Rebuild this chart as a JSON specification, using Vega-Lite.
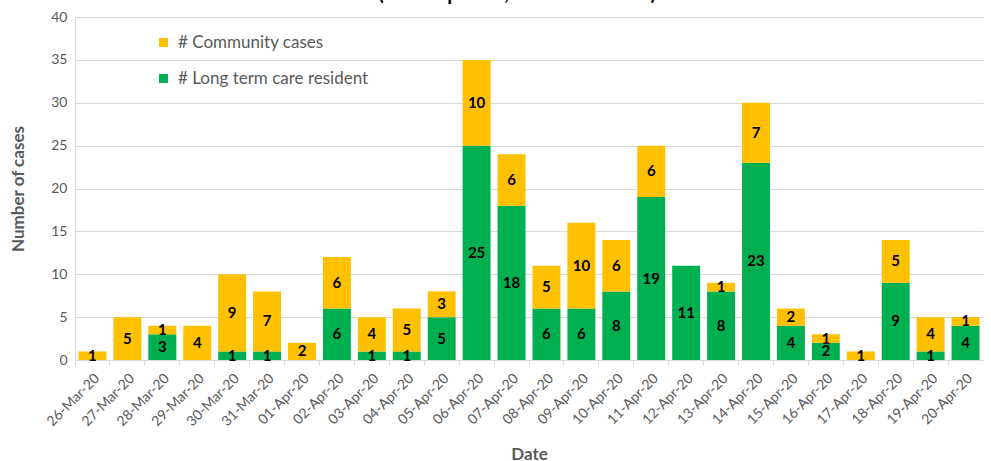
{
  "$schema": "https://vega.github.io/schema/vega-lite/v6.json",
  "width": 908,
  "height": 343,
  "autosize": {"type": "none"},
  "padding": {"left": 75, "top": 17, "right": 8, "bottom": 101},
  "background": "white",
  "title": {
    "text": "(As of April 20, 2020: LGLDHU)",
    "font": "Lato",
    "fontSize": 20,
    "fontWeight": "bold",
    "color": "black",
    "anchor": "middle",
    "offset": 2,
    "dx": -12,
    "dy": 12,
    "baseline": "alphabetic"
  },
  "config": {
    "view": {"stroke": null},
    "font": "Lato",
    "axis": {
      "labelColor": "#595959",
      "titleColor": "#595959",
      "labelFont": "Lato",
      "titleFont": "Lato",
      "domainColor": "#d9d9d9",
      "gridColor": "#d9d9d9",
      "tickColor": "#d9d9d9"
    }
  },
  "data": {
    "values": [
      {"date": "26-Mar-20", "series": "# Long term care resident", "value": 0},
      {"date": "26-Mar-20", "series": "# Community cases", "value": 1},
      {"date": "27-Mar-20", "series": "# Long term care resident", "value": 0},
      {"date": "27-Mar-20", "series": "# Community cases", "value": 5},
      {"date": "28-Mar-20", "series": "# Long term care resident", "value": 3},
      {"date": "28-Mar-20", "series": "# Community cases", "value": 1},
      {"date": "29-Mar-20", "series": "# Long term care resident", "value": 0},
      {"date": "29-Mar-20", "series": "# Community cases", "value": 4},
      {"date": "30-Mar-20", "series": "# Long term care resident", "value": 1},
      {"date": "30-Mar-20", "series": "# Community cases", "value": 9},
      {"date": "31-Mar-20", "series": "# Long term care resident", "value": 1},
      {"date": "31-Mar-20", "series": "# Community cases", "value": 7},
      {"date": "01-Apr-20", "series": "# Long term care resident", "value": 0},
      {"date": "01-Apr-20", "series": "# Community cases", "value": 2},
      {"date": "02-Apr-20", "series": "# Long term care resident", "value": 6},
      {"date": "02-Apr-20", "series": "# Community cases", "value": 6},
      {"date": "03-Apr-20", "series": "# Long term care resident", "value": 1},
      {"date": "03-Apr-20", "series": "# Community cases", "value": 4},
      {"date": "04-Apr-20", "series": "# Long term care resident", "value": 1},
      {"date": "04-Apr-20", "series": "# Community cases", "value": 5},
      {"date": "05-Apr-20", "series": "# Long term care resident", "value": 5},
      {"date": "05-Apr-20", "series": "# Community cases", "value": 3},
      {"date": "06-Apr-20", "series": "# Long term care resident", "value": 25},
      {"date": "06-Apr-20", "series": "# Community cases", "value": 10},
      {"date": "07-Apr-20", "series": "# Long term care resident", "value": 18},
      {"date": "07-Apr-20", "series": "# Community cases", "value": 6},
      {"date": "08-Apr-20", "series": "# Long term care resident", "value": 6},
      {"date": "08-Apr-20", "series": "# Community cases", "value": 5},
      {"date": "09-Apr-20", "series": "# Long term care resident", "value": 6},
      {"date": "09-Apr-20", "series": "# Community cases", "value": 10},
      {"date": "10-Apr-20", "series": "# Long term care resident", "value": 8},
      {"date": "10-Apr-20", "series": "# Community cases", "value": 6},
      {"date": "11-Apr-20", "series": "# Long term care resident", "value": 19},
      {"date": "11-Apr-20", "series": "# Community cases", "value": 6},
      {"date": "12-Apr-20", "series": "# Long term care resident", "value": 11},
      {"date": "12-Apr-20", "series": "# Community cases", "value": 0},
      {"date": "13-Apr-20", "series": "# Long term care resident", "value": 8},
      {"date": "13-Apr-20", "series": "# Community cases", "value": 1},
      {"date": "14-Apr-20", "series": "# Long term care resident", "value": 23},
      {"date": "14-Apr-20", "series": "# Community cases", "value": 7},
      {"date": "15-Apr-20", "series": "# Long term care resident", "value": 4},
      {"date": "15-Apr-20", "series": "# Community cases", "value": 2},
      {"date": "16-Apr-20", "series": "# Long term care resident", "value": 2},
      {"date": "16-Apr-20", "series": "# Community cases", "value": 1},
      {"date": "17-Apr-20", "series": "# Long term care resident", "value": 0},
      {"date": "17-Apr-20", "series": "# Community cases", "value": 1},
      {"date": "18-Apr-20", "series": "# Long term care resident", "value": 9},
      {"date": "18-Apr-20", "series": "# Community cases", "value": 5},
      {"date": "19-Apr-20", "series": "# Long term care resident", "value": 1},
      {"date": "19-Apr-20", "series": "# Community cases", "value": 4},
      {"date": "20-Apr-20", "series": "# Long term care resident", "value": 4},
      {"date": "20-Apr-20", "series": "# Community cases", "value": 1}
    ]
  },
  "transform": [
    {"stack": "value", "groupby": ["date"], "sort": [{"field": "series", "order": "descending"}], "as": ["v0", "v1"]},
    {"calculate": "(datum.v0 + datum.v1) / 2", "as": "mid"}
  ],
  "encoding": {
    "x": {
      "field": "date",
      "type": "nominal",
      "sort": null,
      "scale": {"paddingInner": 0.2, "paddingOuter": 0.1},
      "axis": {
        "title": "Date",
        "titleFontSize": 17,
        "titleFontWeight": "bold",
        "titleY": 86,
        "labelAngle": -45,
        "labelFontSize": 14,
        "ticks": true,
        "tickSize": 5,
        "bandPosition": -0.125,
        "labelOffset": 0,
        "labelPadding": 6,
        "domainColor": "#d9d9d9"
      }
    }
  },
  "layer": [
    {
      "mark": {"type": "bar"},
      "encoding": {
        "y": {
          "field": "v0",
          "type": "quantitative",
          "scale": {"domain": [0, 40]},
          "axis": {
            "title": "Number of cases",
            "titleFontSize": 17,
            "titleFontWeight": "bold",
            "titleX": -48,
            "labelFontSize": 14,
            "tickCount": 8,
            "ticks": false,
            "labelPadding": 8,
            "domain": true
          }
        },
        "y2": {"field": "v1"},
        "color": {
          "field": "series",
          "type": "nominal",
          "scale": {
            "domain": ["# Community cases", "# Long term care resident"],
            "range": ["#FFC000", "#00B050"]
          },
          "legend": {
            "title": null,
            "orient": "none",
            "legendX": 80,
            "legendY": 17,
            "symbolType": "square",
            "symbolSize": 80,
            "symbolStrokeWidth": 0,
            "labelFontSize": 17,
            "labelLimit": 400,
            "labelColor": "#595959",
            "labelFont": "Lato",
            "rowPadding": 18,
            "labelOffset": 6
          }
        }
      }
    },
    {
      "transform": [{"filter": "datum.value > 0"}],
      "mark": {"type": "text", "fontSize": 15, "fontWeight": "bold", "color": "black", "baseline": "middle"},
      "encoding": {
        "y": {"field": "mid", "type": "quantitative"},
        "text": {"field": "value", "type": "quantitative"}
      }
    }
  ]
}
